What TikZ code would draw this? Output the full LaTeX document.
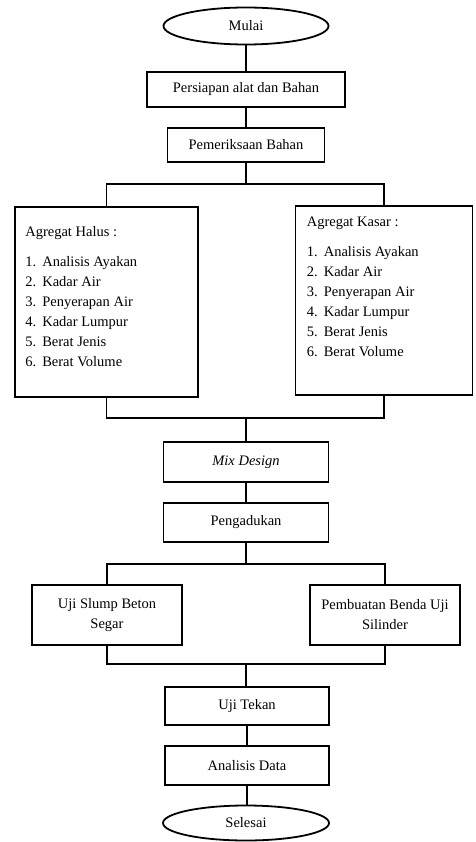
\documentclass[tikz,border=0pt]{standalone}
\usepackage{fontspec}
\setmainfont{Liberation Serif}
\usetikzlibrary{shapes.geometric,positioning,calc}
\newcommand{\nitem}[2]{\makebox[17pt][l]{#1}#2}

\begin{document}
\begin{tikzpicture}[
                x=1pt, y=-1pt,
                font=\fontsize{14.5}{20}\selectfont,
                terminal/.style={ellipse, draw, line width=1.8pt,
                        minimum width=165pt, minimum height=37pt, inner sep=0pt},
                process/.style={rectangle, draw, line width=1.8pt, align=center,
                        minimum width=165pt, minimum height=39pt, inner sep=0pt},
                listbox/.style={rectangle, draw, line width=1.8pt, inner sep=0pt},
                listtext/.style={anchor=north west, align=left, inner sep=0pt},
                edge/.style={draw, line width=1.8pt},
            ]
            \useasboundingbox (0,0) rectangle (475,842);

            % ── Start and preparation ─────────────────────────────
            \node[terminal] (mulai) at (246,26) {Mulai};
            \node[process, minimum width=198pt, minimum height=35pt] (persiapan) at (246,89.5) {Persiapan alat dan Bahan};
            \node[process, minimum width=157pt, minimum height=34pt] (periksa) at (246,145) {Pemeriksaan Bahan};
            \draw[edge] (mulai) -- (persiapan);
            \draw[edge] (persiapan) -- (periksa);

            % ── Aggregate tests ───────────────────────────────────
            \node[listbox, minimum width=183pt, minimum height=190pt] (halus) at (106.5,302) {};
            \node[listbox, minimum width=177pt, minimum height=189pt] (kasar) at (384,300.5) {};
            \node[listtext] (halustxt) at ([shift={(11,20)}]halus.north west) {%
                Agregat Halus :\\[10pt]
                \nitem{1.}{Analisis Ayakan}\\
                \nitem{2.}{Kadar Air}\\
                \nitem{3.}{Penyerapan Air}\\
                \nitem{4.}{Kadar Lumpur}\\
                \nitem{5.}{Berat Jenis}\\
                \nitem{6.}{Berat Volume}};
            \node[listtext] (kasartxt) at ([shift={(12,12)}]kasar.north west) {%
                Agregat Kasar :\\[10pt]
                \nitem{1.}{Analisis Ayakan}\\
                \nitem{2.}{Kadar Air}\\
                \nitem{3.}{Penyerapan Air}\\
                \nitem{4.}{Kadar Lumpur}\\
                \nitem{5.}{Berat Jenis}\\
                \nitem{6.}{Berat Volume}};
            \coordinate (split1) at (246,184);
            \coordinate (merge1) at (246,418);
            \draw[edge] (periksa) -- (split1);
            \draw[edge] (halus.north) |- (split1) -| (kasar.north);
            \draw[edge] (halus.south) |- (merge1) -| (kasar.south);

            % ── Mix design and mixing ─────────────────────────────
            \node[process, minimum height=40pt] (mix) at (246,462) {\itshape Mix Design};
            \node[process] (aduk) at (246,522.5) {Pengadukan};
            \draw[edge] (merge1) -- (mix);
            \draw[edge] (mix) -- (aduk);

            % ── Slump test and specimens ──────────────────────────
            \node[process, minimum width=150pt, minimum height=60pt] (slump) at (107,615) {Uji Slump Beton\\Segar};
            \node[process, minimum width=150pt, minimum height=60pt] (benda) at (385,615) {Pembuatan Benda Uji\\Silinder};
            \coordinate (split2) at (246,564);
            \coordinate (merge2) at (246,664);
            \draw[edge] (aduk) -- (split2);
            \draw[edge] (slump.north) |- (split2) -| (benda.north);
            \draw[edge] (slump.south) |- (merge2) -| (benda.south);

            % ── Testing, analysis and end ─────────────────────────
            \node[process, minimum width=164pt, minimum height=38pt] (tekan) at (247,706) {Uji Tekan};
            \node[process, minimum width=164pt] (analisis) at (247,765.5) {Analisis Data};
            \node[terminal, minimum width=166pt, minimum height=35pt] (selesai) at (246,823) {Selesai};
            \draw[edge] (merge2) -- (merge2 |- tekan.north);
            \draw[edge] (tekan) -- (analisis);
            \draw[edge] (analisis) -- (analisis |- selesai.north);
        \end{tikzpicture}
\end{document}
